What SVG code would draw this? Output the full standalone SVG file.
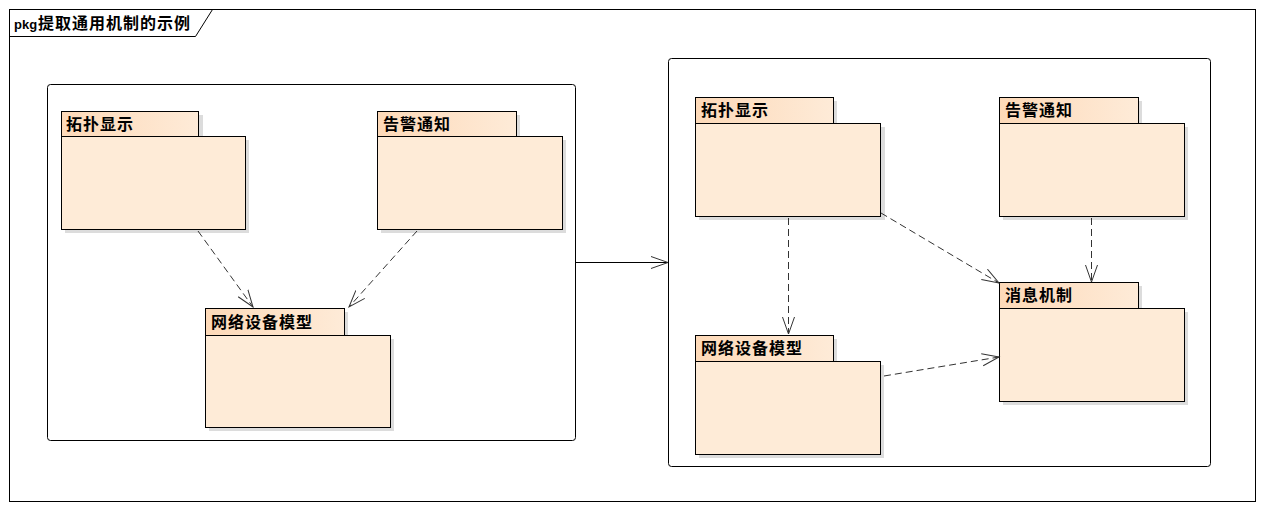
<svg xmlns="http://www.w3.org/2000/svg" width="1263" height="509" viewBox="0 0 1263 509">
<defs>
<linearGradient id="tabg" x1="0" y1="0" x2="1" y2="0">
<stop offset="0" stop-color="#FDD9B8"/>
<stop offset="1" stop-color="#FEEBD8"/>
</linearGradient>
<marker id="open" markerWidth="20" markerHeight="14" refX="17" refY="7" orient="auto" markerUnits="userSpaceOnUse">
<path d="M0,1 L17,7 L0,13" fill="none" stroke="#333" stroke-width="1"/>
</marker>
</defs>
<style>
.frame{fill:#fff;stroke:#000;stroke-width:1}
.cont{fill:#fff;stroke:#000;stroke-width:1}
.shadow{fill:#DCDCDC}
.tab{fill:url(#tabg);stroke:#000;stroke-width:1}
.body{fill:#FEEBD7;stroke:#000;stroke-width:1}
.lbl{font-family:"Noto Sans CJK SC","Liberation Sans",sans-serif;font-size:16px;letter-spacing:1px;font-weight:bold;fill:#000}
.dep{fill:none;stroke:#333;stroke-width:1;stroke-dasharray:7,4;marker-end:url(#open)}
.sol{fill:none;stroke:#000;stroke-width:1;marker-end:url(#open)}
</style>
<rect width="1263" height="509" fill="#fff"/>
<g id="frame">
<rect class="frame" x="9.5" y="9.5" width="1246" height="492"/>
<path d="M9.5,36.5 H195.5 L212.5,9.5" fill="none" stroke="#000"/>
<text x="14" y="29" font-family="Liberation Sans,sans-serif" font-size="13" font-weight="bold">pkg</text>
<text x="38" y="29" font-family="'Noto Sans CJK SC',sans-serif" font-size="16" letter-spacing="1" font-weight="bold">提取通用机制的示例</text>
</g>
<g id="left-container">
<rect class="cont" x="47.5" y="84.5" width="528" height="356" rx="3"/>
</g>
<g id="right-container">
<rect class="cont" x="668.5" y="58.5" width="542" height="408" rx="3"/>
</g>
<g id="pkg-l-topo">
<rect class="shadow" x="65" y="115" width="138" height="25"/>
<rect class="shadow" x="65" y="140" width="184" height="93"/>
<rect class="tab" x="61.5" y="111.5" width="137" height="25"/>
<rect class="body" x="61.5" y="136.5" width="184" height="93"/>
<text class="lbl" x="66" y="130">拓扑显示</text>
</g>
<g id="pkg-l-alarm">
<rect class="shadow" x="381" y="115" width="139" height="25"/>
<rect class="shadow" x="381" y="140" width="185" height="93"/>
<rect class="tab" x="377.5" y="111.5" width="139" height="25"/>
<rect class="body" x="377.5" y="136.5" width="185" height="93"/>
<text class="lbl" x="383" y="130">告警通知</text>
</g>
<g id="pkg-l-netmodel">
<rect class="shadow" x="209" y="312" width="139" height="27"/>
<rect class="shadow" x="209" y="339" width="185" height="92"/>
<rect class="tab" x="205.5" y="308.5" width="139" height="27"/>
<rect class="body" x="205.5" y="335.5" width="185" height="92"/>
<text class="lbl" x="211" y="328">网络设备模型</text>
</g>
<g id="pkg-r-topo">
<rect class="shadow" x="699" y="101" width="138" height="26"/>
<rect class="shadow" x="699" y="127" width="186" height="93"/>
<rect class="tab" x="695.5" y="97.5" width="138" height="26"/>
<rect class="body" x="695.5" y="123.5" width="185" height="93"/>
<text class="lbl" x="701" y="116">拓扑显示</text>
</g>
<g id="pkg-r-alarm">
<rect class="shadow" x="1003" y="101" width="139" height="26"/>
<rect class="shadow" x="1003" y="127" width="185" height="93"/>
<rect class="tab" x="999.5" y="97.5" width="139" height="26"/>
<rect class="body" x="999.5" y="123.5" width="185" height="93"/>
<text class="lbl" x="1005" y="116">告警通知</text>
</g>
<g id="pkg-r-msg">
<rect class="shadow" x="1003" y="286" width="139" height="26"/>
<rect class="shadow" x="1003" y="312" width="185" height="93"/>
<rect class="tab" x="999.5" y="282.5" width="139" height="26"/>
<rect class="body" x="999.5" y="308.5" width="185" height="93"/>
<text class="lbl" x="1005" y="301">消息机制</text>
</g>
<g id="pkg-r-netmodel">
<rect class="shadow" x="699" y="339" width="138" height="26"/>
<rect class="shadow" x="699" y="365" width="185" height="93"/>
<rect class="tab" x="695.5" y="335.5" width="138" height="26"/>
<rect class="body" x="695.5" y="361.5" width="185" height="93"/>
<text class="lbl" x="701" y="354">网络设备模型</text>
</g>
<g id="connectors">
<path class="dep" d="M198,231 L253,307"/>
<path class="dep" d="M417,231 L349,307"/>
<path class="sol" d="M575,262.5 L668,262.5"/>
<path class="dep" d="M788.5,218 L788.5,334"/>
<path class="dep" d="M881,213 L999,283"/>
<path class="dep" d="M1091.5,218 L1091.5,282"/>
<path class="dep" d="M884,376 L999,357"/>
</g>
</svg>
